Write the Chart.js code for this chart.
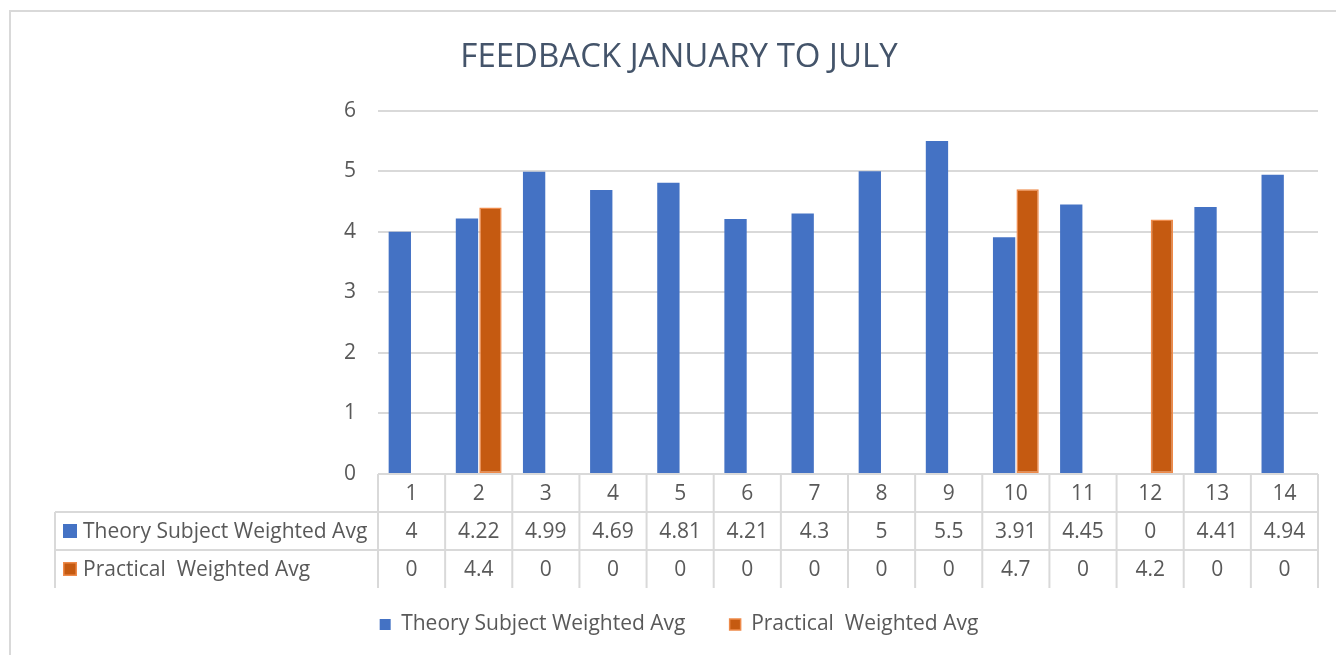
<!DOCTYPE html>
<html>
<head>
<meta charset="utf-8">
<script src="https://cdn.jsdelivr.net/npm/chart.js@4/dist/chart.umd.min.js"></script>
<style>
  html, body { margin: 0; padding: 0; background: #fff; }
  #wrap { position: relative; width: 1336px; height: 655px; }
</style>
</head>
<body>
<div id="wrap"><canvas id="c"></canvas></div>
<script>
"use strict";

/* ── data ── */
const categories = ["1", "2", "3", "4", "5", "6", "7", "8", "9", "10", "11", "12", "13", "14"];
const theoryAvg = [4, 4.22, 4.99, 4.69, 4.81, 4.21, 4.3, 5, 5.5, 3.91, 4.45, 0, 4.41, 4.94];
const practicalAvg = [0, 4.4, 0, 0, 0, 0, 0, 0, 0, 4.7, 0, 4.2, 0, 0];
const yTicks = [0, 1, 2, 3, 4, 5, 6];
const seriesNames = ["Theory Subject Weighted Avg", "Practical  Weighted Avg"];
const chartTitle = "FEEDBACK JANUARY TO JULY";

const FONT = "Open Sans";
const TXT = "#595959";
const GRID = "#d9d9d9";
const ROW_H = 38;
const TABLE_LEFT = 55;

/* ── frame + data table under the x axis ── */
const framePlugin = {
  id: "frame",
  beforeDraw(chart) {
    const c = chart.ctx;
    c.save();
    c.fillStyle = "#fff";
    c.fillRect(0, 0, chart.width, chart.height);
    c.strokeStyle = GRID;
    c.lineWidth = 2;
    c.strokeRect(10, 11, chart.width + 20, chart.height + 20);
    c.restore();
  },
};

const tablePlugin = {
  id: "dataTable",
  afterDatasetsDraw(chart) {
    const c = chart.ctx;
    const x = chart.scales.x;
    const top = chart.chartArea.bottom;
    const n = categories.length;
    const half = (x.getPixelForValue(1) - x.getPixelForValue(0)) / 2;
    const left = x.getPixelForValue(0) - half;
    const right = x.getPixelForValue(n - 1) + half;
    const rows = [theoryAvg, practicalAvg];

    c.save();
    c.strokeStyle = GRID;
    c.lineWidth = 2;
    c.beginPath();
    // horizontal lines
    c.moveTo(left, top); c.lineTo(right, top);
    for (let r = 1; r <= rows.length; r++) {
      c.moveTo(TABLE_LEFT, top + r * ROW_H);
      c.lineTo(right, top + r * ROW_H);
    }
    // vertical lines
    for (let i = 0; i <= n; i++) {
      const px = i < n ? x.getPixelForValue(i) - half : right;
      c.moveTo(px, top);
      c.lineTo(px, top + (rows.length + 1) * ROW_H);
    }
    c.moveTo(TABLE_LEFT, top + ROW_H);
    c.lineTo(TABLE_LEFT, top + (rows.length + 1) * ROW_H);
    c.stroke();

    c.fillStyle = TXT;
    c.font = "21px '" + FONT + "'";
    c.textAlign = "center";
    c.textBaseline = "middle";
    categories.forEach((lab, i) => {
      const px = x.getPixelForValue(i);
      c.fillText(lab, px, top + ROW_H / 2 + 1);
      rows.forEach((vals, r) => {
        c.fillText(String(vals[i]), px, top + (r + 1.5) * ROW_H + 1);
      });
    });

    // series labels with legend keys
    c.textAlign = "left";
    chart.data.datasets.forEach((ds, r) => {
      const cy = top + (r + 1.5) * ROW_H;
      c.fillStyle = ds.backgroundColor;
      c.fillRect(63, cy - 7, 14, 14);
      if (r === 1) {
        c.strokeStyle = "#ee8a4a";
        c.lineWidth = 1.5;
        c.strokeRect(63.75, cy - 6.25, 12.5, 12.5);
      }
      c.fillStyle = TXT;
      c.fillText(ds.label, 83, cy + 1);
    });
    c.restore();
  },
};

new Chart(document.getElementById("c"), {
  type: "bar",
  data: {
    labels: categories,
    datasets: [
      {
        label: seriesNames[0],
        data: theoryAvg,
        backgroundColor: "#4472c4",
        borderWidth: 0,
        categoryPercentage: 0.7,
        barPercentage: 0.95,
      },
      {
        label: seriesNames[1],
        data: practicalAvg,
        backgroundColor: "#c55a11",
        borderColor: "#ee8a4a",
        borderWidth: (ctx) => (ctx.raw > 0 ? 1.5 : 0),
        borderSkipped: false,
        categoryPercentage: 0.7,
        barPercentage: 0.95,
      },
    ],
  },
  options: {
    responsive: true,
    maintainAspectRatio: false,
    animation: false,
    layout: { padding: { left: 40, right: 18, top: 38, bottom: 10 } },
    plugins: {
      title: {
        display: true,
        text: chartTitle,
        color: "#44546a",
        font: { family: FONT, size: 33, weight: "normal" },
        padding: { top: 0, bottom: 33 },
      },
      legend: {
        position: "bottom",
        labels: {
          color: TXT,
          font: { family: FONT, size: 21 },
          boxWidth: 11,
          boxHeight: 11,
          padding: 6,
          generateLabels(chart) {
            const n = chart.data.datasets.length;
            return chart.data.datasets.map((ds, i) => ({
              text: i < n - 1 ? ds.label + "       " : ds.label,
              fillStyle: ds.backgroundColor,
              strokeStyle: i === 1 ? "#ee8a4a" : ds.backgroundColor,
              lineWidth: i === 1 ? 1.5 : 0,
              fontColor: TXT,
              datasetIndex: i,
            }));
          },
        },
      },
      tooltip: { enabled: false },
    },
    scales: {
      x: {
        grid: { display: false },
        border: { display: false },
        ticks: { display: false },
        afterFit(scale) { scale.height = 3 * ROW_H + 20; },
      },
      y: {
        min: 0,
        max: 6,
        afterBuildTicks(scale) { scale.ticks = yTicks.map((v) => ({ value: v })); },
        afterFit(scale) { scale.width = 338; },
        grid: { color: GRID, lineWidth: 2, drawTicks: false },
        border: { display: false },
        ticks: {
          color: TXT,
          font: { family: FONT, size: 21 },
          padding: 22,
        },
      },
    },
  },
  plugins: [framePlugin, tablePlugin],
});
</script>
</body>
</html>
